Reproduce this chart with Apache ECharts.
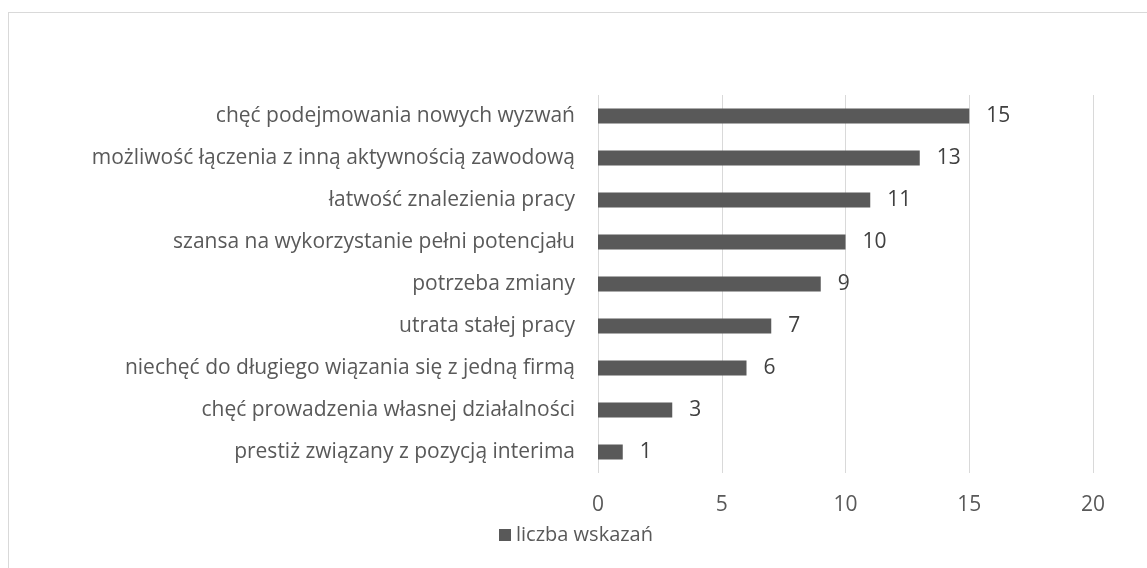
<!DOCTYPE html>
<html>
<head>
<meta charset="utf-8">
<script src="https://cdn.jsdelivr.net/npm/echarts@6/dist/echarts.min.js"></script>
<style>
	html, body { margin: 0; padding: 0; background: #fff; overflow: hidden; }
	#frame { position: absolute; left: 8px; top: 12px; width: 1200px; height: 600px; border: 1px solid #d9d9d9; box-sizing: border-box; }
	#chart { position: absolute; left: 0; top: 0; width: 1147px; height: 568px; }
</style>
</head>
<body>
<div id="frame"></div>
<div id="chart"></div>
<script>
// kategorie (od góry)
var categories = [
	"chęć podejmowania nowych wyzwań",
	"możliwość łączenia z inną aktywnością zawodową",
	"łatwość znalezienia pracy",
	"szansa na wykorzystanie pełni potencjału",
	"potrzeba zmiany",
	"utrata stałej pracy",
	"niechęć do długiego wiązania się z jedną firmą",
	"chęć prowadzenia własnej działalności",
	"prestiż związany z pozycją interima"
];
var values = [15, 13, 11, 10, 9, 7, 6, 3, 1];
var seriesName = "liczba wskazań";
var xTicks = [0, 5, 10, 15, 20];

var font = "'Open Sans', sans-serif";
var chart = echarts.init(document.getElementById("chart"));

chart.setOption({
	animation : false,
	textStyle : {
		fontFamily : font
	},
	grid : {
		left : 598,
		right : 54,
		top : 95,
		bottom : 95
	},
	legend : {
		top : 520,
		left : 494,
		itemWidth : 12,
		itemHeight : 12,
		icon : 'rect',
		textStyle : {
			color : '#595959',
			fontSize : 20,
			fontFamily : font,
			padding : [0, 0, 0, 0]
		},
		data : [ seriesName ]
	},
	xAxis : {
		type : 'value',
		min : xTicks[0],
		max : xTicks[xTicks.length - 1],
		interval : 5,
		axisLine : { show : false },
		axisTick : { show : false },
		splitLine : {
			lineStyle : { color : '#d9d9d9', width : 1 }
		},
		axisLabel : {
			color : '#595959',
			fontSize : 21,
			margin : 22
		}
	},
	yAxis : {
		type : 'category',
		inverse : true,
		data : categories,
		axisLine : { show : false },
		axisTick : { show : false },
		axisLabel : {
			color : '#595959',
			fontSize : 21,
			margin : 23
		}
	},
	series : [ {
		name : seriesName,
		type : 'bar',
		barWidth : 15,
		itemStyle : { color : '#595959' },
		label : {
			show : true,
			position : 'right',
			distance : 17,
			color : '#404040',
			fontSize : 21
		},
		data : values
	} ]
});
</script>
</body>
</html>
